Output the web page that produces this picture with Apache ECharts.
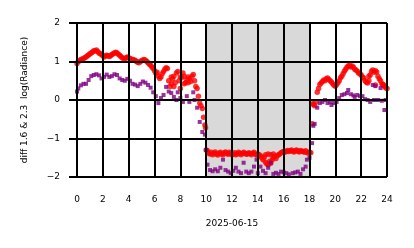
<!DOCTYPE html>
<html>
<head>
<meta charset="utf-8">
<script src="https://cdn.jsdelivr.net/npm/echarts@6/dist/echarts.min.js"></script>
<style>
html,body{margin:0;padding:0;background:#fff;}
#chart{width:414px;height:248px;}
</style>
</head>
<body>
<div id="chart"></div>
<script>
// Red series: regular 0.1 h sampling from 0 h
const redStartHour = 0;
const redStepHour = 0.1;
const redValues = [
  0.95,1.00,1.02,1.05,1.06,1.08,1.10,1.12,1.15,1.17,
  1.20,1.22,1.25,1.28,1.27,1.30,1.26,1.22,1.20,1.18,
  1.15,1.12,1.14,1.16,1.15,1.13,1.15,1.18,1.20,1.22,
  1.24,1.22,1.19,1.16,1.13,1.10,1.08,1.07,1.10,1.12,
  1.10,1.08,1.06,1.05,1.04,1.03,1.00,0.98,0.97,1.00,
  1.02,1.04,1.05,1.03,1.00,0.97,0.93,0.90,0.86,0.82,
  0.76,0.70,0.72,0.62,0.56,0.60,0.68,0.74,0.80,0.84,
  0.82,0.50,0.35,0.42,0.55,0.62,0.45,0.70,0.74,0.50,
  0.30,0.58,0.70,0.62,0.45,0.52,0.60,0.55,0.48,0.62,
  0.66,0.50,0.35,0.30,0.10,-0.08,-0.15,-0.22,-0.45,-0.65,
  -1.30,-1.32,-1.38,-1.40,-1.36,-1.42,-1.38,-1.35,-1.40,-1.43,
  -1.38,-1.36,-1.40,-1.42,-1.37,-1.35,-1.39,-1.41,-1.36,-1.38,
  -1.43,-1.40,-1.37,-1.42,-1.40,-1.36,-1.38,-1.42,-1.39,-1.36,
  -1.38,-1.41,-1.40,-1.37,-1.39,-1.42,-1.38,-1.36,-1.40,-1.43,
  -1.40,-1.42,-1.45,-1.50,-1.55,-1.48,-1.62,-1.66,-1.68,-1.60,
  -1.64,-1.56,-1.50,-1.46,-1.52,-1.45,-1.42,-1.40,-1.37,-1.35,
  -1.34,-1.36,-1.33,-1.31,-1.34,-1.32,-1.30,-1.33,-1.35,-1.32,
  -1.30,-1.33,-1.35,-1.31,-1.33,-1.34,-1.36,-1.32,-1.35,-1.38,
  -1.36,-1.37,-0.62,-0.12,-0.15,-0.05,0.20,0.30,0.40,0.44,
  0.48,0.52,0.50,0.55,0.57,0.53,0.50,0.47,0.42,0.38,
  0.36,0.40,0.45,0.50,0.58,0.62,0.68,0.75,0.80,0.85,
  0.88,0.90,0.86,0.88,0.85,0.80,0.78,0.75,0.70,0.68,
  0.65,0.60,0.57,0.50,0.46,0.44,0.50,0.65,0.75,0.78,
  0.72,0.76,0.73,0.62,0.55,0.50,0.42,0.40,0.36,0.32,
  0.30
];
// Additional red points (scatter around the main trace)
const redExtraHours  = [7.3, 7.5, 8.0, 8.3, 8.6, 9.95, 14.6, 14.8, 15.0, 15.2, 18.25, 22.6, 23.1, 23.7];
const redExtraValues = [0.60,0.35,0.60,0.42,0.45,-0.72,-1.42,-1.40,-1.42,-1.40,-0.10,0.62,0.39,0.39];

// Purple series
const purpleHours = [
  0.0,0.1,0.3,0.5,0.7,0.9,1.1,1.3,1.5,1.7,1.9,2.1,2.3,2.5,2.7,2.9,3.1,3.3,3.5,3.7,3.9,
  4.1,4.3,4.5,4.7,4.9,5.1,5.3,5.5,5.7,5.9,6.1,6.3,6.5,6.7,6.9,7.1,7.3,7.5,7.7,7.8,8.0,
  8.2,8.5,8.7,9.0,9.1,9.3,9.5,9.7,9.9,
  10.0,10.1,10.3,10.5,10.7,10.9,11.1,11.3,11.5,11.7,11.9,12.1,12.3,12.5,12.7,12.9,13.1,
  13.3,13.5,13.7,13.9,14.0,14.2,14.4,14.6,14.8,15.0,15.2,15.4,15.6,15.8,16.0,16.2,16.4,
  16.7,16.9,17.1,17.3,17.5,17.7,17.8,18.0,
  18.2,18.3,18.4,18.6,18.8,19.0,19.2,19.4,19.6,19.7,19.9,20.1,20.3,20.5,20.7,20.9,21.0,
  21.2,21.4,21.5,21.7,21.9,22.1,22.3,22.5,22.7,22.9,23.0,23.1,23.3,23.5,23.6,23.8,23.9
];
const purpleValues = [
  0.22,0.30,0.38,0.42,0.42,0.52,0.62,0.65,0.67,0.64,0.56,0.60,0.66,0.60,0.62,0.67,0.65,0.56,0.52,0.50,0.55,
  0.50,0.42,0.40,0.36,0.42,0.48,0.45,0.39,0.32,0.20,0.10,-0.08,0.05,0.13,0.34,0.22,0.18,0.08,0.00,0.20,0.05,
  -0.05,0.10,-0.05,0.20,0.00,-0.20,-0.57,-0.83,-0.90,
  -1.30,-1.68,-1.82,-1.85,-1.80,-1.85,-1.76,-1.55,-1.82,-1.86,-1.90,-1.84,-1.76,-1.86,-1.90,-1.63,-1.86,
  -1.90,-1.86,-1.73,-1.55,-1.90,-1.73,-1.84,-1.90,-1.76,-1.63,-1.92,-1.89,-1.92,-1.86,-1.88,-1.90,-1.93,
  -1.90,-1.88,-1.86,-1.92,-1.80,-1.73,-1.55,-1.50,
  -1.12,-0.67,-0.62,-0.20,-0.08,-0.05,0.00,-0.08,-0.05,-0.13,-0.08,-0.05,0.05,0.13,0.15,0.18,0.26,
  0.15,0.12,0.08,0.13,0.10,0.10,0.02,0.00,-0.05,0.39,0.00,0.36,0.00,0.31,-0.02,-0.26,0.00
];

const xTicks = [0,2,4,6,8,10,12,14,16,18,20,22,24];
const yTicks = [-2,-1,0,1,2];
const shadeStart = 10, shadeEnd = 18;
const xTitle = '2025-06-15';
const yTitle = 'diff 1.6 & 2.3  log(Radiance)';

const redData = redValues.map((v, i) => [redStartHour + i * redStepHour, v])
  .concat(redExtraHours.map((h, i) => [h, redExtraValues[i]]));
const purpleData = purpleHours.map((h, i) => [h, purpleValues[i]]);

const font = 'DejaVu Sans';
const chart = echarts.init(document.getElementById('chart'), null, {renderer: 'canvas'});
chart.setOption({
  animation: false,
  backgroundColor: '#fff',
  grid: {left: 77, right: 27, top: 23, bottom: 71},
  xAxis: {
    type: 'value', min: xTicks[0], max: xTicks[xTicks.length - 1], interval: 2,
    z: 10,
    name: xTitle, nameLocation: 'middle', nameGap: 42,
    nameTextStyle: {fontFamily: font, fontSize: 9, color: '#000'},
    axisLine: {show: true, lineStyle: {color: '#000', width: 2}},
    axisTick: {show: true, length: 8, lineStyle: {color: '#000', width: 2}},
    axisLabel: {fontFamily: font, fontSize: 9, color: '#000', margin: 18},
    splitLine: {show: true, lineStyle: {color: '#000', width: 2}}
  },
  yAxis: {
    type: 'value', min: yTicks[0], max: yTicks[yTicks.length - 1], interval: 1,
    z: 10,
    name: yTitle, nameLocation: 'middle', nameGap: 48, nameRotate: 90,
    nameTextStyle: {fontFamily: font, fontSize: 9, color: '#000'},
    axisLine: {show: true, lineStyle: {color: '#000', width: 2}},
    axisTick: {show: true, length: 8, lineStyle: {color: '#000', width: 2}},
    axisLabel: {fontFamily: font, fontSize: 9, color: '#000', margin: 17,
      formatter: v => String(v).replace('-', '\u2212')},
    splitLine: {show: true, lineStyle: {color: '#000', width: 2}}
  },
  series: [
    {
      type: 'scatter', data: redData, symbol: 'circle', symbolSize: 5.5,
      itemStyle: {color: '#ff0000'}, z: 2, silent: true
    },
    {
      type: 'scatter', data: purpleData, symbol: 'rect', symbolSize: 4,
      itemStyle: {color: '#800080'}, z: 3, silent: true
    },
    {
      type: 'scatter', data: [], z: 5, silent: true,
      markArea: {
        silent: true,
        itemStyle: {color: 'rgba(128,128,128,0.3)'},
        data: [[{xAxis: shadeStart}, {xAxis: shadeEnd}]]
      }
    }
  ]
});
</script>
</body>
</html>
